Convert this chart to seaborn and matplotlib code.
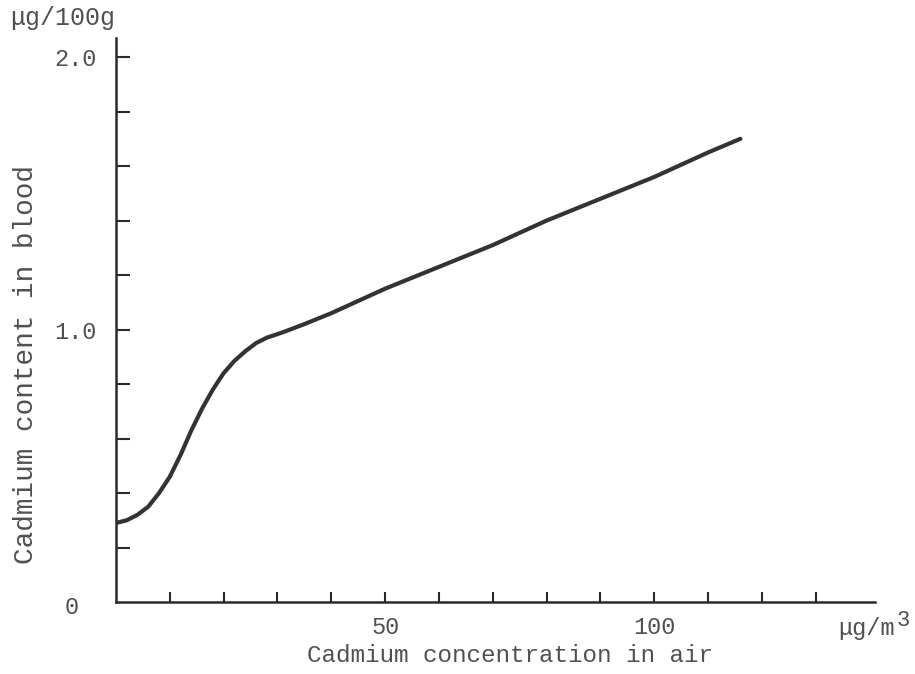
import matplotlib
matplotlib.use("Agg")
import matplotlib.pyplot as plt
import seaborn as sns

# values
air_conc = [0, 2, 4, 6, 8, 10, 12, 14, 16, 18, 20, 22, 24, 26, 28, 31, 35, 40,
            50, 60, 70, 80, 90, 100, 110, 116]
blood_cd = [0.29, 0.30, 0.32, 0.35, 0.40, 0.46, 0.54, 0.63, 0.71, 0.78, 0.84, 0.885,
            0.92, 0.95, 0.97, 0.99, 1.02, 1.06, 1.15, 1.23, 1.31, 1.40, 1.48, 1.56,
            1.65, 1.70]

x_ticks = list(range(10, 131, 10))
x_labels = ["50" if t == 50 else "100" if t == 100 else "" for t in x_ticks]
y_ticks = [0.2, 0.4, 0.6, 0.8, 1.0, 1.2, 1.4, 1.6, 1.8, 2.0]
y_labels = ["1.0" if t == 1.0 else "2.0" if t == 2.0 else "" for t in y_ticks]

sns.set_style("white")
plt.rcParams['font.family'] = ['Liberation Mono', 'DejaVu Sans']

W, H = 915, 674
txt_col = "#505050"
ink = "#2a2a2a"

fig = plt.figure(figsize=(W / 100, H / 100), dpi=100)
ax = fig.add_axes([116 / W, (H - 602) / H, (875 - 116) / W, (602 - 38) / H])

sns.lineplot(x=air_conc, y=blood_cd, ax=ax, color="#333333", linewidth=3.0)

ax.set_xlim(0, 141)
ax.set_ylim(0, 2.07)
sns.despine(ax=ax)
for s in ["left", "bottom"]:
    ax.spines[s].set_color(ink)
    ax.spines[s].set_linewidth(1.8)

ax.set_xticks(x_ticks)
ax.set_xticklabels(x_labels)
ax.set_yticks(y_ticks)
ax.set_yticklabels(y_labels)
ax.tick_params(axis="x", bottom=True, direction="in", length=7, width=1.5, color=ink,
               pad=10, labelsize=17, labelcolor=txt_col)
ax.tick_params(axis="y", left=True, direction="in", length=10, width=1.5, color=ink,
               pad=14, labelsize=17, labelcolor=txt_col)

# stray zero at origin
fig.text(72 / W, 1 - 608 / H, "0", ha="center", va="center", fontsize=17, color=txt_col)

# units and axis titles
fig.text(10 / W, 1 - 18 / H, "μg/100g", ha="left", va="center", fontsize=18, color=txt_col)
fig.text(838 / W, 1 - 628 / H, "μg/m", ha="left", va="center", fontsize=17, color=txt_col)
fig.text(897 / W, 1 - 620 / H, "3", ha="left", va="center", fontsize=16, color=txt_col)
fig.text(510 / W, 1 - 655 / H, "Cadmium concentration in air", ha="center", va="center",
         fontsize=17.5, color=txt_col)
fig.text(26 / W, 1 - 365 / H, "Cadmium content in blood", ha="center", va="center",
         rotation=90, fontsize=20, color=txt_col)

fig.savefig("out.png", dpi=100, facecolor="white")
